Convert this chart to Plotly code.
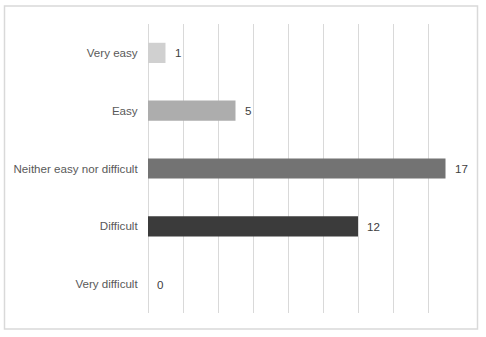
import plotly.graph_objects as go

categories = ["Very easy", "Easy", "Neither easy nor difficult", "Difficult", "Very difficult"]
values = [1, 5, 17, 12, 0]
colors = ["#d0d0d0", "#adadad", "#737373", "#3b3b3b", "#262626"]

W, H = 486, 337
ml, mr, mt, mb = 148, 23, 24, 24
pw = W - ml - mr
ph = H - mt - mb

fig = go.Figure()
fig.add_trace(go.Bar(
    y=categories, x=values, orientation="h",
    marker=dict(color=colors, line=dict(width=0)),
    width=0.35, hoverinfo="skip",
))

for c, v in zip(categories, values):
    fig.add_annotation(x=v, y=c, text=str(v), showarrow=False,
                       xanchor="left", xshift=7,
                       font=dict(family="Liberation Sans, Arial", size=11.6, color="#404040"))

# outer chart border
fig.add_shape(type="rect", xref="paper", yref="paper",
              x0=(4.5 - ml) / pw, x1=(477.5 - ml) / pw,
              y0=(H - 329 - mb) / ph, y1=(H - 6 - mb) / ph,
              line=dict(color="#d9d9d9", width=1.5), layer="below")

fig.update_layout(
    width=W, height=H,
    margin=dict(l=ml, r=mr, t=mt, b=mb),
    paper_bgcolor="white", plot_bgcolor="white",
    showlegend=False,
    bargap=0.65,
    xaxis=dict(range=[0, 18], dtick=2, showgrid=True, gridcolor="#d9d9d9",
               gridwidth=1, showticklabels=False, zeroline=True,
               zerolinecolor="#d9d9d9", zerolinewidth=1,
               showline=False, ticks=""),
    yaxis=dict(autorange="reversed", showgrid=False, zeroline=False,
               showline=False, ticks="outside", ticklen=7, tickcolor="white",
               tickfont=dict(family="Liberation Sans, Arial", size=11.6, color="#595959")),
)

fig.write_html("out.html")
